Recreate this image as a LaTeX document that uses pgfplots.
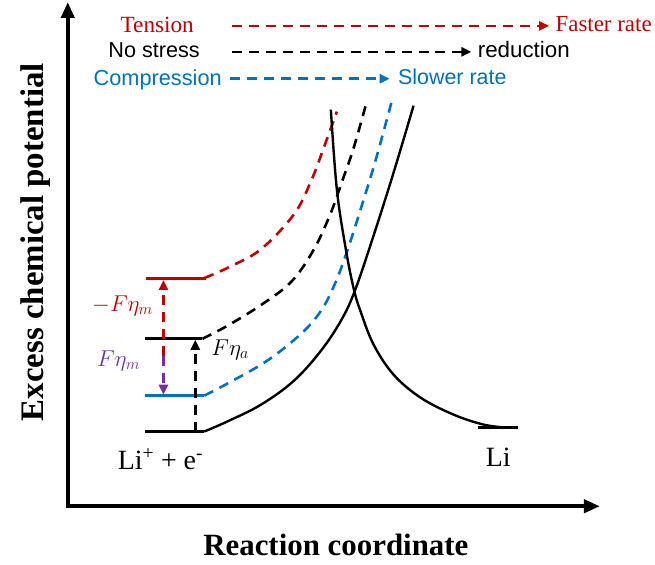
\RequirePackage{fix-cm}
\documentclass[border=0pt]{standalone}
\usepackage{fontspec}
\setmainfont{Liberation Serif}
\newfontfamily\arialfont{Liberation Sans}
\usepackage{pgfplots}
\pgfplotsset{compat=1.18}
\usetikzlibrary{arrows.meta}

\definecolor{tensred}{RGB}{192,0,0}
\definecolor{compblue}{RGB}{0,112,192}
\definecolor{etapurple}{RGB}{112,48,160}

\tikzset{
  dsh/.style={line width=2.6bp, dash pattern=on 10bp off 7bp},
  tip/.style={-{Triangle[length=10bp,width=9bp]}},
  lvl/.style={line width=3bp},
  curve/.style={line width=2.4bp, smooth, tension=0.6},
}
\newcommand\tnr[1]{\fontsize{#1bp}{1.2\dimexpr#1bp\relax}\selectfont}

\begin{document}
\begin{tikzpicture}
\begin{axis}[
  scale only axis, width=655bp, height=566bp,
  xmin=0, xmax=655, ymin=0, ymax=566, y dir=reverse,
  hide axis, clip=false,
]
\path (axis cs:0,0) rectangle (axis cs:655,566);

% axes
\addplot[black, line width=4bp, line join=miter,
  {Triangle[length=16bp,width=13bp]}-{Triangle[length=16bp,width=13bp]}]
  coordinates {(68,2) (68,508) (602,508)};

% energy levels
\addplot[tensred, lvl] coordinates {(147,279) (207,279)};
\addplot[black, lvl] coordinates {(145,340) (203,340)};
\addplot[compblue, lvl] coordinates {(145,397) (205,397)};
\addplot[black, lvl] coordinates {(145,433) (205,433)};
\addplot[black, line width=3.5bp] coordinates {(480,429) (520,429)};

% reaction paths
\addplot[tensred, dsh, smooth, tension=0.6] coordinates {
  (205,279) (230,268) (262,250) (295,215) (312,182) (325,148) (338,112)};
\addplot[black, dsh, smooth, tension=0.6] coordinates {
  (203,340) (228,327) (262,306) (292,283) (314,252) (331,216) (344,180) (355,148) (368,102)};
\addplot[compblue, dsh, smooth, tension=0.6] coordinates {
  (205,397) (228,385) (268,362) (302,335) (322,312) (336,285) (349,250) (365,200) (378,157) (393,102)};
\addplot[black, curve] coordinates {
  (205,433) (228,423) (262,406) (295,382) (322,352) (342,322) (356,292) (375,236) (395,173) (415,106)};
\addplot[black, curve] coordinates {
  (332,110) (338,190) (347,250) (355,290) (362,313) (375,346) (395,376) (422,399) (455,416) (485,426) (507,429)};

% overpotential arrows
\addplot[tensred, dsh, tip] coordinates {(164,357) (164,281)};
\addplot[etapurple, dsh, tip] coordinates {(164,357) (164,396)};
\addplot[black, dsh, tip] coordinates {(196,433) (196,341)};

% legend arrows
\addplot[tensred, dsh, tip] coordinates {(233,26) (551,26)};
\addplot[black, dsh, tip] coordinates {(233,52) (473,52)};
\addplot[compblue, dsh, tip] coordinates {(231,79) (391,79)};

% legend text
\node[anchor=base east, text=tensred, font=\tnr{23.3}] at (axis cs:198,33) {Tension};
\node[anchor=base east, font=\arialfont\tnr{21.7}] at (axis cs:204,58) {No stress};
\node[anchor=base east, text=compblue, font=\arialfont\tnr{21.8}] at (axis cs:226,86) {Compression};
\node[anchor=base west, text=tensred, font=\tnr{23}] at (axis cs:554,32) {Faster rate};
\node[anchor=base west, font=\arialfont\tnr{22.4}] at (axis cs:476,58) {reduction};
\node[anchor=base west, text=compblue, font=\arialfont\tnr{21.5}] at (axis cs:396,85) {Slower rate};

% state labels
\node[anchor=base, font=\tnr{28}] at (axis cs:161,471) {Li\textsuperscript{+} + e\textsuperscript{-}};
\node[anchor=base, font=\tnr{28}] at (axis cs:500,468) {Li};

% overpotential labels
\node[text=tensred, font=\tnr{23}] at (axis cs:123,307) {$-F\eta_m$};
\node[text=etapurple, font=\tnr{23}] at (axis cs:119,362) {$F\eta_m$};
\node[font=\tnr{23}] at (axis cs:231,351) {$F\eta_a$};

% axis titles
\node[anchor=base, font=\bfseries\tnr{31}] at (axis cs:337,557) {Reaction coordinate};
\node[anchor=base, rotate=90, font=\bfseries\tnr{33}] at (axis cs:44,243) {Excess chemical potential};
\end{axis}
\end{tikzpicture}
\end{document}
